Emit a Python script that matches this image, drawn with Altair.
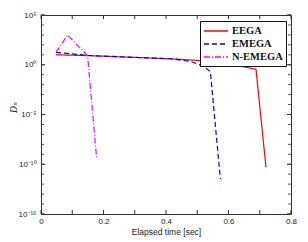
import altair as alt
import pandas as pd

series_names = ["EEGA", "EMEGA", "N-EMEGA"]
series_colors = ["#ff0000", "#0000ff", "#ff00ff"]

eega_t = [0.048, 0.15, 0.414, 0.52, 0.605, 0.688, 0.72]
eega_d = [10.0, 8.3, 4.0, 2.5, 1.17, 0.35, 5.0e-11]

emega_t = [0.048, 0.15, 0.414, 0.478, 0.52, 0.542, 0.574]
emega_d = [17.8, 8.5, 4.0, 2.2, 0.71, 0.2, 3.2e-12]

nemega_t = [0.048, 0.085, 0.149, 0.178]
nemega_d = [17.8, 1000.0, 8.5, 4.0e-10]

x_ticks = [0, 0.1, 0.2, 0.3, 0.4, 0.5, 0.6, 0.7, 0.8]
y_major = [1e-15, 1e-10, 1e-5, 1, 1e5]
y_minor = [10.0 ** k for k in range(-15, 6)]

rows = []
for name, ts, ds in [("EEGA", eega_t, eega_d), ("EMEGA", emega_t, emega_d), ("N-EMEGA", nemega_t, nemega_d)]:
    for t, d in zip(ts, ds):
        rows.append({"series": name, "t": t, "D": d})
df = pd.DataFrame(rows)

W, H = 250, 199

xscale = alt.Scale(domain=[0, 0.8], nice=False, zero=False)
yscale = alt.Scale(type="log", domain=[1e-15, 1e5], nice=False)

label_expr = ("datum.value > 1e4 ? '10\u2075' : datum.value > 0.5 ? '10\u2070' : "
              "datum.value > 1e-6 ? '10\u207b\u2075' : datum.value > 1e-11 ? '10\u207b\u00b9\u2070' : '10\u207b\u00b9\u2075'")

legend_spec = alt.Legend(title=None, orient="none", legendX=159, legendY=6)

lines = alt.Chart(df).mark_line(strokeWidth=1.2, clip=True).encode(
    x=alt.X("t:Q", scale=xscale,
            axis=alt.Axis(values=x_ticks, ticks=False, domain=False, grid=False,
                          labelExpr="datum.value == 0 ? '0' : format(datum.value, '.1f')",
                          labelFont="Liberation Sans", labelFontSize=8, labelPadding=3,
                          labelColor="#222", labelFlush=False,
                          title="Elapsed time [sec]", titleFont="Liberation Sans",
                          titleFontSize=8.5, titleFontWeight="normal", titleColor="#222",
                          titleY=13)),
    y=alt.Y("D:Q", scale=yscale,
            axis=alt.Axis(values=y_major, ticks=False, domain=False, grid=False,
                          labelExpr=label_expr, labelFont="Liberation Sans", labelFontSize=8,
                          labelPadding=5, labelColor="#222", labelOverlap=False,
                          title="D\u2099", titleFont="DejaVu Serif", titleFontStyle="italic",
                          titleFontWeight="normal", titleFontSize=9, titleColor="#222",
                          titleX=-28, titleY=92, titleBaseline="middle")),
    color=alt.Color("series:N", scale=alt.Scale(domain=series_names, range=series_colors),
                    legend=legend_spec),
    strokeDash=alt.StrokeDash("series:N",
                              scale=alt.Scale(domain=series_names, range=[[1, 0], [5, 3], [6, 2, 1, 2]]),
                              legend=legend_spec),
    order="t:Q",
)

ydf_major = pd.DataFrame({"v": y_major})
ydf_minor = pd.DataFrame({"v": y_minor})
xdf = pd.DataFrame({"v": x_ticks})

tick_color = "#333"

left_major = alt.Chart(ydf_major).mark_rule(color=tick_color, strokeWidth=1).encode(
    y=alt.Y("v:Q", scale=yscale), x=alt.value(0), x2=alt.value(4))
left_minor = alt.Chart(ydf_minor).mark_rule(color=tick_color, strokeWidth=0.8).encode(
    y=alt.Y("v:Q", scale=yscale), x=alt.value(0), x2=alt.value(3))
right_major = alt.Chart(ydf_major).mark_rule(color=tick_color, strokeWidth=1).encode(
    y=alt.Y("v:Q", scale=yscale), x=alt.value(W), x2=alt.value(W - 4))
right_minor = alt.Chart(ydf_minor).mark_rule(color=tick_color, strokeWidth=0.8).encode(
    y=alt.Y("v:Q", scale=yscale), x=alt.value(W), x2=alt.value(W - 3))
bottom_ticks = alt.Chart(xdf).mark_rule(color=tick_color, strokeWidth=1).encode(
    x=alt.X("v:Q", scale=xscale), y=alt.value(H), y2=alt.value(H - 4))
top_ticks = alt.Chart(xdf).mark_rule(color=tick_color, strokeWidth=1).encode(
    x=alt.X("v:Q", scale=xscale), y=alt.value(0), y2=alt.value(4))

chart = alt.layer(
    left_minor, left_major, right_minor, right_major, bottom_ticks, top_ticks, lines
).properties(
    width=W, height=H,
    autosize=alt.AutoSizeParams(type="none"),
    padding={"left": 33, "top": 7, "right": 9, "bottom": 23},
    background="white",
).configure_view(
    stroke="#333", strokeWidth=1
).configure_legend(
    strokeColor="#111", fillColor="white", padding=3, cornerRadius=0,
    symbolType="M-1,0H3", symbolSize=144, symbolStrokeWidth=1.3,
    labelFont="Liberation Serif", labelFontWeight="bold", labelFontSize=10.5,
    labelColor="#111", labelOffset=15, rowPadding=-3,
)

chart.save("out.html", embed_options={"renderer": "svg", "actions": False})
